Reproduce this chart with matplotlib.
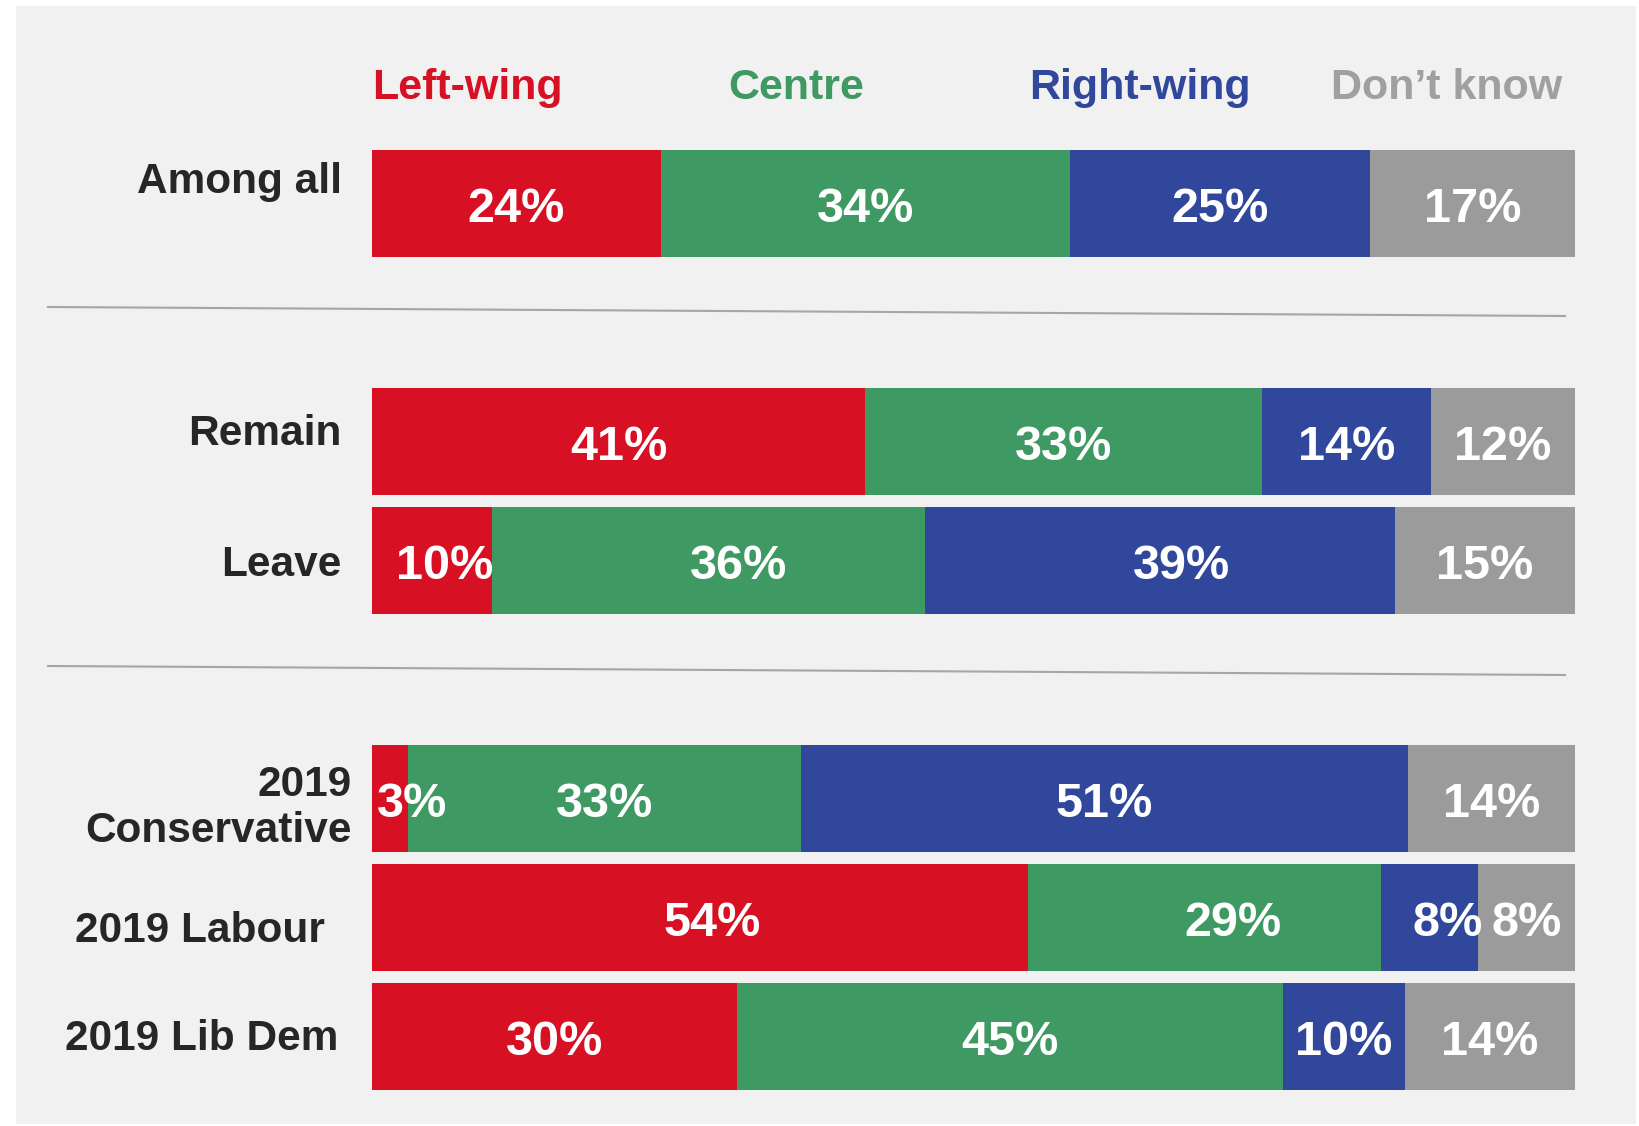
import numpy as np
import matplotlib.pyplot as plt
from matplotlib.patches import Rectangle
from matplotlib.lines import Line2D

# データ
groups = ["Among all", "Remain", "Leave", "2019\nConservative", "2019 Labour", "2019 Lib Dem"]
categories = ["Left-wing", "Centre", "Right-wing", "Don\u2019t know"]
left_wing = [24, 41, 10, 3, 54, 30]
centre = [34, 33, 36, 33, 29, 45]
right_wing = [25, 14, 39, 51, 8, 10]
dont_know = [17, 12, 15, 14, 8, 14]

# 配色 [赤, 緑, 青, 灰]
color_list = ["#d71024", "#3f9963", "#30479b", "#9b9b9b"]
head_colors = ["#d71024", "#3f9963", "#30479b", "#a0a0a0"]
text_color = "#262626"
bg_color = "#f1f1f1"

plt.rcParams['font.family'] = ['Liberation Sans', 'DejaVu Sans']
plt.rcParams['font.weight'] = 'bold'

W, H = 1639, 1126
fig = plt.figure(figsize=(W / 100, H / 100), dpi=100)
fig.patch.set_facecolor("white")
fig.add_artist(Rectangle((16 / W, (H - 1124) / H), 1620 / W, 1118 / H,
                         transform=fig.transFigure, facecolor=bg_color, edgecolor="none", zorder=0))

# 行の位置（グループ間に空き）
row_pos = np.array([0, 2, 3, 5, 6, 7])
unit = 119.0           # 1行あたりのピクセル
y0 = 203.5             # 先頭行の中心（ピクセル）
ax_left, ax_right = 372, 1575
ax_top = y0 - 0.5 * unit
ax_bot = y0 + 7.5 * unit
ax = fig.add_axes([ax_left / W, (H - ax_bot) / H, (ax_right - ax_left) / W, (ax_bot - ax_top) / H])
ax.set_xlim(0, 100)
ax.set_ylim(7.5, -0.5)
ax.axis("off")

series = np.array([left_wing, centre, right_wing, dont_know], dtype=float)
shares = series / series.sum(axis=0) * 100  # 各行を100%に揃える

# ラベルの横ずれ（元図に合わせる）[系列][行]
nudge = np.zeros_like(shares)
nudge[:, 2] = [1.0, 2.5, 1.8, 0.0]
nudge[:, 4] = [1.0, 2.4, 1.5, 0.0]

left = np.zeros(len(groups))
for i, vals in enumerate(shares):
    ax.barh(row_pos, vals, left=left, height=0.9, color=color_list[i], edgecolor="none", zorder=2)
    for j in range(len(groups)):
        lab = f"{int(series[i, j])}%"
        if vals[j] < 5:
            ax.text(left[j] + 0.4, row_pos[j] + 0.05, lab, ha="left", va="center",
                    color="white", fontsize=35, fontweight="bold", zorder=3)
        else:
            ax.text(left[j] + vals[j] / 2 + nudge[i, j], row_pos[j] + 0.05, lab, ha="center",
                    va="center", color="white", fontsize=35, fontweight="bold", zorder=3)
    left += vals

# 凡例（見出し）
head_x = [7.9, 35.3, 63.8, 89.3]
for cat, hx, c in zip(categories, head_x, head_colors):
    ax.text(hx, -0.97, cat, ha="center", va="center", color=c, fontsize=31,
            fontweight="bold", clip_on=False)

# 行ラベル
label_x = [-2.5, -2.5, -2.5, -1.7, -3.9, -2.8]
label_dy = [-0.18, -0.06, 0.04, 0.08, 0.11, 0.02]
for g, p, lx, dy in zip(groups, row_pos, label_x, label_dy):
    ax.text(lx, p + dy, g, ha="right", va="center", color=text_color, fontsize=30.5,
            fontweight="bold", linespacing=1.2, clip_on=False)

# 区切り線（わずかに傾いている）
for (yl, yr) in [(307, 316), (666, 675)]:
    fig.add_artist(Line2D([48 / W, 1565 / W], [(H - yl) / H, (H - yr) / H],
                          transform=fig.transFigure, color="#a6a6a6", linewidth=1.5, zorder=1))

plt.savefig("out.png", dpi=100, facecolor=fig.get_facecolor())
